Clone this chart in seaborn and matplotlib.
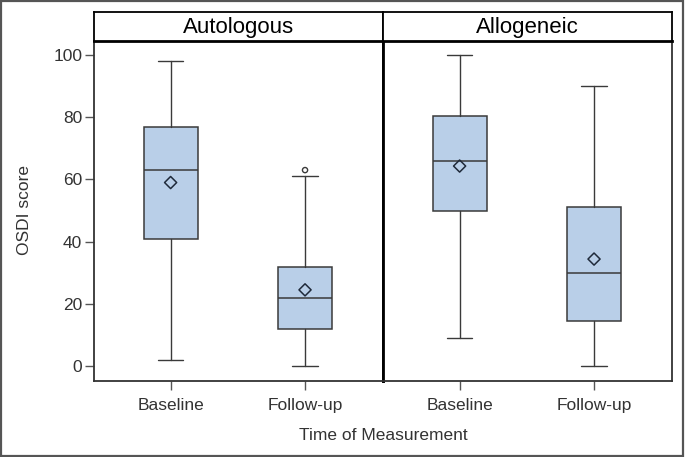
import matplotlib
matplotlib.use("Agg")
import matplotlib.pyplot as plt
from matplotlib.patches import Rectangle
import seaborn as sns
import pandas as pd

# values
panels = ["Autologous", "Allogeneic"]
times = ["Baseline", "Follow-up"]
whislo = [[2, 0], [9, 0]]
q1 = [[41, 12], [50, 14.5]]
med = [[63, 22], [66, 30]]
q3 = [[77, 32], [80.5, 51]]
whishi = [[98, 61], [100, 90]]
means = [[59, 24.5], [64.3, 34.4]]
outliers = [[[], [63]], [[], []]]

box_fill = "#b9cfe8"
line_col = "#3a3a3a"

sns.set_theme(style="white")
plt.rcParams["font.family"] = ["Liberation Sans", "DejaVu Sans"]

fig = plt.figure(figsize=(6.85, 4.57), dpi=100)

W, H = 685, 457
left0 = 94 / W
pw = 289 / W
bottom = 1 - 381 / H
ph = 340 / H
hbottom = 1 - 41 / H
hh = 29 / H

for i, name in enumerate(panels):
    ax = fig.add_axes([left0 + i * pw, bottom, pw, ph])
    stats = []
    for j, t in enumerate(times):
        stats.append(dict(label=t, whislo=whislo[i][j], q1=q1[i][j], med=med[i][j],
                          q3=q3[i][j], whishi=whishi[i][j], fliers=[]))
    ax.bxp(stats, positions=[0, 1], widths=0.4, capwidths=0.19, patch_artist=True,
           showfliers=False,
           boxprops=dict(facecolor=box_fill, edgecolor=line_col, linewidth=1.1),
           medianprops=dict(color=line_col, linewidth=1.1),
           whiskerprops=dict(color=line_col, linewidth=1.0),
           capprops=dict(color=line_col, linewidth=1.0))

    mdf = pd.DataFrame({"pos": [0, 1], "mean": means[i]})
    sns.scatterplot(data=mdf, x="pos", y="mean", marker="D", s=38, color="none",
                    edgecolor="#1f2a3a", linewidth=1.1, ax=ax, zorder=5)
    ox, oy = [], []
    for j in range(2):
        for v in outliers[i][j]:
            ox.append(j)
            oy.append(v)
    if ox:
        odf = pd.DataFrame({"pos": ox, "val": oy})
        sns.scatterplot(data=odf, x="pos", y="val", marker="o", s=14, color="none",
                        edgecolor=line_col, linewidth=1.0, ax=ax, zorder=5)

    ax.set_xlim(-0.57, 1.58)
    ax.set_ylim(-4.8, 104.5)
    ax.set_xticks([0, 1])
    ax.set_xticklabels(times)
    ax.set_xlabel("")
    ax.set_ylabel("")
    ax.set_yticks([0, 20, 40, 60, 80, 100])
    ax.tick_params(axis="both", direction="out", length=6.5, width=1.0, color="#555555",
                   labelsize=12.5, labelcolor="#333333", pad=2, bottom=True, left=(i == 0))
    ax.tick_params(axis="x", pad=6)
    if i > 0:
        ax.tick_params(axis="y", labelleft=False)
    for side, sp in ax.spines.items():
        sp.set_color("#333333")
        sp.set_linewidth(1.3)
    ax.spines["left" if i > 0 else "right"].set_color("black")
    ax.spines["left" if i > 0 else "right"].set_linewidth(2.0)

    hax = fig.add_axes([left0 + i * pw, hbottom, pw, hh])
    hax.set_xticks([])
    hax.set_yticks([])
    for sp in hax.spines.values():
        sp.set_color("black")
        sp.set_linewidth(1.3)
    hax.spines["bottom"].set_linewidth(2.0)
    hax.text(0.5, 0.45, name, ha="center", va="center", fontsize=16, color="black",
             transform=hax.transAxes)

fig.text(383 / W, 1 - 436 / H, "Time of Measurement", ha="center", va="center",
         fontsize=12.5, color="#333333")
fig.text(25 / W, 1 - 210 / H, "OSDI score", ha="center", va="center",
         rotation=90, fontsize=12.5, color="#333333")

fig.patches.append(Rectangle((0.002, 0.003), 0.995, 0.994, transform=fig.transFigure,
                             fill=False, edgecolor="#555555", linewidth=1.6))

fig.savefig("out.png", dpi=100)
